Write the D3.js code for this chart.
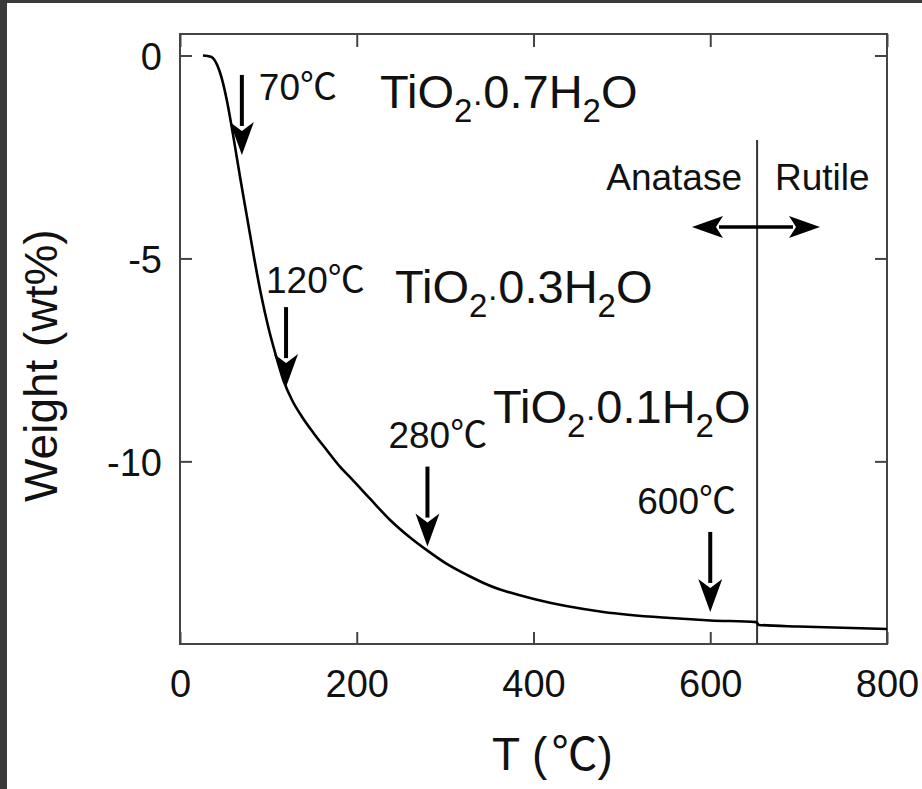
<!DOCTYPE html>
<html>
<head>
<meta charset="utf-8">
<script src="https://cdn.jsdelivr.net/npm/d3@7"></script>
<style>
  html, body { margin: 0; padding: 0; background: #fff; }
  svg { display: block; }
  text { font-family: "Liberation Sans", Arial, sans-serif; fill: #111; }
</style>
</head>
<body>
<script>
// TGA curve of hydrated TiO2: temperature (°C) vs weight change (wt%)
const temperature = [26, 35, 45, 53, 60, 68, 76, 84, 92, 100, 108, 117, 127, 138, 151, 166, 181, 195, 215, 238, 260, 280, 300, 325, 348, 404, 479, 555, 600, 652, 655, 700, 750, 800];
const weight      = [0, -0.03, -0.4, -1.1, -1.95, -3.0, -4.0, -5.0, -5.92, -6.7, -7.35, -8.0, -8.5, -8.9, -9.3, -9.72, -10.13, -10.45, -10.92, -11.45, -11.87, -12.2, -12.5, -12.8, -13.04, -13.41, -13.71, -13.86, -13.92, -13.96, -14.03, -14.07, -14.1, -14.13];

// Annotated dehydration steps
const stepT     = [70, 120, 280, 600];
const stepTipW  = [-2.45, -8.17, -12.1, -13.71];
const stepLabel = ["70", "120", "280", "600"];

// Hydrate compositions
const hydrateWater = ["0.7", "0.3", "0.1"];

// Anatase → rutile transition
const transitionT = 653;

// Axis ticks
const xTicks = [0, 200, 400, 600, 800];
const yTicks = [0, -5, -10];

const W = 922, H = 789;
const svg = d3.select("body").append("svg").attr("width", W).attr("height", H);

// page background with the dark edge strips
svg.append("rect").attr("width", W).attr("height", H).attr("fill", "#fff");
svg.append("rect").attr("x", 0).attr("y", 0).attr("width", 7).attr("height", H).attr("fill", "#3a3a3a");
svg.append("rect").attr("x", 0).attr("y", 0).attr("width", W).attr("height", 3).attr("fill", "#3a3a3a");

const plot = { left: 180, right: 887, top: 34, bottom: 644 };
const x = d3.scaleLinear().domain([0, 800]).range([plot.left, plot.right]);
const y = d3.scaleLinear().domain([-14.5, 0.53]).range([plot.bottom, plot.top]);

const axisColor = "#444";

// axes (ticks pointing inward)
const gx = svg.append("g").attr("transform", `translate(0,${plot.bottom})`)
  .call(d3.axisBottom(x).tickValues(xTicks).tickSizeInner(-12).tickSizeOuter(0).tickPadding(26).tickFormat(d => String(d)));
const gxTop = svg.append("g").attr("transform", `translate(0,${plot.top})`)
  .call(d3.axisTop(x).tickValues(xTicks).tickSizeInner(-13).tickSizeOuter(0).tickFormat(""));
const gy = svg.append("g").attr("transform", `translate(${plot.left},0)`)
  .call(d3.axisLeft(y).tickValues(yTicks).tickSizeInner(-12).tickSizeOuter(0).tickPadding(18).tickFormat(d => String(d)));
const gyRight = svg.append("g").attr("transform", `translate(${plot.right},0)`)
  .call(d3.axisRight(y).tickValues(yTicks).tickSizeInner(-12).tickSizeOuter(0).tickFormat(""));

[gx, gxTop, gy, gyRight].forEach(g => {
  g.select(".domain").remove();
  g.selectAll(".tick line").attr("stroke", axisColor).attr("stroke-width", 2);
  g.selectAll(".tick text")
    .attr("fill", "#111")
    .style("font-family", '"Liberation Sans", Arial, sans-serif')
    .style("font-size", "38px");
});
gy.selectAll(".tick text").attr("dy", "0.38em");

// frame
svg.append("rect")
  .attr("x", plot.left).attr("y", plot.top)
  .attr("width", plot.right - plot.left).attr("height", plot.bottom - plot.top)
  .attr("fill", "none").attr("stroke", axisColor).attr("stroke-width", 2);

// transition line
svg.append("line")
  .attr("x1", x(transitionT)).attr("x2", x(transitionT))
  .attr("y1", 140).attr("y2", plot.bottom)
  .attr("stroke", "#333").attr("stroke-width", 2);

// TGA curve
const pts = temperature.map((t, i) => [t, weight[i]]);
svg.append("path")
  .datum(pts)
  .attr("fill", "none")
  .attr("stroke", "#000")
  .attr("stroke-width", 2.6)
  .attr("stroke-linejoin", "round")
  .attr("d", d3.line().x(d => x(d[0])).y(d => y(d[1])).curve(d3.curveMonotoneX));

// downward arrows marking each step
const arrowLen = 80, headLen = 33, headHalf = 12;
function downArrow(cx, tipY) {
  svg.append("line")
    .attr("x1", cx).attr("x2", cx)
    .attr("y1", tipY - arrowLen).attr("y2", tipY - headLen + 4)
    .attr("stroke", "#000").attr("stroke-width", 4);
  svg.append("path")
    .attr("d", `M${cx},${tipY} L${cx - headHalf},${tipY - headLen} L${cx},${tipY - headLen + 9} L${cx + headHalf},${tipY - headLen} Z`)
    .attr("fill", "#000");
}
stepT.forEach((t, i) => downArrow(x(t), y(stepTipW[i])));

// step temperature labels (offsets from arrow top)
const labelOffset = [[17, 25], [-20, -14], [-39, -19], [-73, -18]];
stepT.forEach((t, i) => {
  const ax = x(t), top = y(stepTipW[i]) - arrowLen;
  const tx = svg.append("text")
    .attr("x", ax + labelOffset[i][0]).attr("y", top + labelOffset[i][1])
    .style("font-size", "37px")
    .attr("fill", "#222");
  tx.append("tspan").text(stepLabel[i]);
  tx.append("tspan").style("font-family", '"Noto Sans CJK JP", sans-serif').style("font-size", "37px").text("℃");
});

// hydrate formula labels
const formulaPos = [[380, 108], [395, 303], [493, 423]];
hydrateWater.forEach((w, i) => {
  const t = svg.append("text")
    .attr("x", formulaPos[i][0]).attr("y", formulaPos[i][1])
    .style("font-size", "47px").attr("fill", "#000");
  t.append("tspan").text("TiO");
  t.append("tspan").attr("dy", 14).style("font-size", "33px").text("2");
  t.append("tspan").attr("dy", -10).style("font-size", "33px").text("·");
  t.append("tspan").attr("dy", -4).text(w + "H");
  t.append("tspan").attr("dy", 14).style("font-size", "33px").text("2");
  t.append("tspan").attr("dy", -14).text("O");
});

// phase labels and double arrow
svg.append("text").attr("x", 742).attr("y", 190).attr("text-anchor", "end")
  .style("font-size", "37px").attr("fill", "#222").text("Anatase");
svg.append("text").attr("x", 775).attr("y", 190)
  .style("font-size", "37px").attr("fill", "#222").text("Rutile");

const ay = 227, ax1 = 692, ax2 = 820, hl = 31, hh = 11;
svg.append("line").attr("x1", ax1 + hl - 4).attr("x2", ax2 - hl + 4).attr("y1", ay).attr("y2", ay)
  .attr("stroke", "#000").attr("stroke-width", 3.5);
svg.append("path").attr("d", `M${ax1},${ay} L${ax1 + hl},${ay - hh} L${ax1 + hl - 7},${ay} L${ax1 + hl},${ay + hh} Z`).attr("fill", "#000");
svg.append("path").attr("d", `M${ax2},${ay} L${ax2 - hl},${ay - hh} L${ax2 - hl + 7},${ay} L${ax2 - hl},${ay + hh} Z`).attr("fill", "#000");

// axis titles
const xt = svg.append("text").attr("x", 492).attr("y", 770).style("font-size", "46px").attr("fill", "#111");
xt.append("tspan").text("T (");
xt.append("tspan").style("font-family", '"Noto Sans CJK JP", sans-serif').attr("dx", 4).text("℃");
xt.append("tspan").text(")");

svg.append("text")
  .attr("transform", "translate(57,502) rotate(-90)")
  .style("font-size", "46px").attr("fill", "#111")
  .text("Weight (wt%)");
</script>
</body>
</html>
